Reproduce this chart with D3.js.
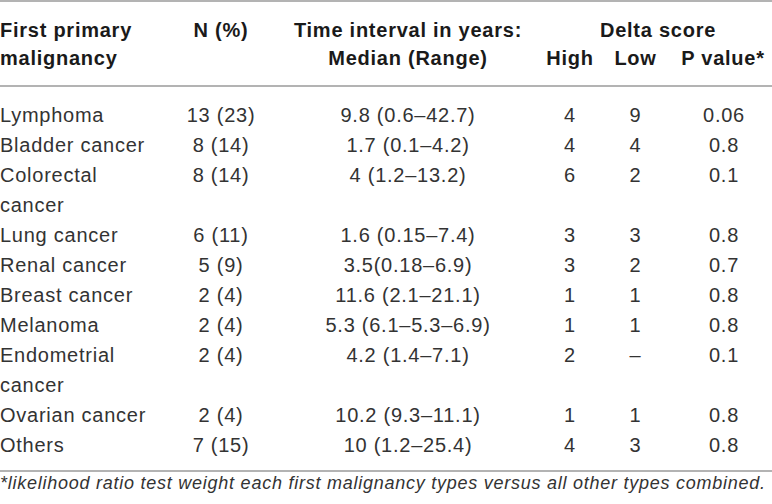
<!DOCTYPE html>
<html><head><meta charset="utf-8">
<script src="https://cdn.jsdelivr.net/npm/d3@7"></script>
<style>
html,body{margin:0;padding:0;background:#fff;}
svg{display:block;font-family:"Liberation Sans",Arial,sans-serif;}
</style></head>
<body>
<svg id="t" width="772" height="504"></svg>
<script>
// ---- data ----
const categories = ["Lymphoma","Bladder cancer","Colorectal cancer","Lung cancer","Renal cancer","Breast cancer","Melanoma","Endometrial cancer","Ovarian cancer","Others"];
const nPercent = ["13 (23)","8 (14)","8 (14)","6 (11)","5 (9)","2 (4)","2 (4)","2 (4)","2 (4)","7 (15)"];
const timeInterval = ["9.8 (0.6–42.7)","1.7 (0.1–4.2)","4 (1.2–13.2)","1.6 (0.15–7.4)","3.5(0.18–6.9)","11.6 (2.1–21.1)","5.3 (6.1–5.3–6.9)","4.2 (1.4–7.1)","10.2 (9.3–11.1)","10 (1.2–25.4)"];
const deltaHigh = ["4","4","6","3","3","1","1","2","1","4"];
const deltaLow = ["9","4","2","3","2","1","1","–","1","3"];
const pValue = ["0.06","0.8","0.1","0.8","0.7","0.8","0.8","0.1","0.8","0.8"];
const headerCols = [
  {key:"cat", lines:["First primary","malignancy"], anchor:"start"},
  {key:"n", lines:["N (%)",""], anchor:"middle"},
  {key:"time", lines:["Time interval in years:","Median (Range)"], anchor:"middle"},
  {key:"high", lines:["","High"], anchor:"middle"},
  {key:"low", lines:["","Low"], anchor:"middle"},
  {key:"phead", lines:["","P value*"], anchor:"middle"}
];
const groupHeader = "Delta score";
const footnote = "*likelihood ratio test weight each first malignancy types versus all other types combined.";

// ---- layout ----
const W = 772;
const svg = d3.select("#t");
const colX = d3.scaleOrdinal()
  .domain(["cat","n","time","high","low","p","phead","delta"])
  .range([0, 221, 408, 570, 635.5, 724, 723, 658]);
const fs = 20, ls = 0.75;
const bodyColor = "#333333", headColor = "#1a1a1a", ruleColor = "#9a9a9a";

// rules
[1, 86, 471]
  .forEach(y => svg.append("line")
  .attr("x1",0).attr("x2",W).attr("y1",y).attr("y2",y)
  .attr("stroke",ruleColor).attr("stroke-width",1.6));

// header
const hy = d3.scaleLinear().domain([0,1]).range([36.5, 65]);
headerCols.forEach(c => c.lines.forEach((t,i) => {
  if (!t) return;
  svg.append("text").attr("x", colX(c.key)).attr("y", hy(i))
    .attr("text-anchor", c.anchor).attr("font-size", fs).attr("font-weight","bold")
    .attr("letter-spacing", ls).attr("fill", headColor).text(t);
}));
svg.append("text").attr("x", colX("delta")).attr("y", hy(0))
  .attr("text-anchor","middle").attr("font-size", fs).attr("font-weight","bold")
  .attr("letter-spacing", ls).attr("fill", headColor).text(groupHeader);

// wrap category labels to column width
const maxCatW = 155;
const measure = svg.append("text").attr("font-size", fs).attr("letter-spacing", ls);
const catLines = categories.map(c => {
  const words = c.split(" "); const out = []; let cur = "";
  words.forEach(w => {
    const trial = cur ? cur + " " + w : w;
    measure.text(trial);
    if (measure.node().getComputedTextLength() > maxCatW && cur) { out.push(cur); cur = w; }
    else cur = trial;
  });
  out.push(cur); return out;
});
measure.remove();

let lineIdx = 0;
const rowStart = catLines.map(l => { const s = lineIdx; lineIdx += l.length; return s; });
const y = d3.scaleLinear().domain([0, lineIdx - 1]).range([121.7, 451.7]);

const body = svg.append("g").attr("font-size", fs).attr("fill", bodyColor).attr("letter-spacing", ls);
categories.forEach((c, r) => {
  catLines[r].forEach((t, j) => body.append("text").attr("x", colX("cat")).attr("y", y(rowStart[r] + j)).text(t));
  [["n", nPercent], ["time", timeInterval], ["high", deltaHigh], ["low", deltaLow], ["p", pValue]].forEach(([k, arr]) => {
    body.append("text").attr("x", colX(k)).attr("y", y(rowStart[r])).attr("text-anchor","middle").text(arr[r]);
  });
});

svg.append("text").attr("x", 0).attr("y", 489).attr("font-size", 18).attr("letter-spacing", 0.75)
  .attr("font-style","italic").attr("fill", bodyColor).text(footnote);
</script>
</body></html>
